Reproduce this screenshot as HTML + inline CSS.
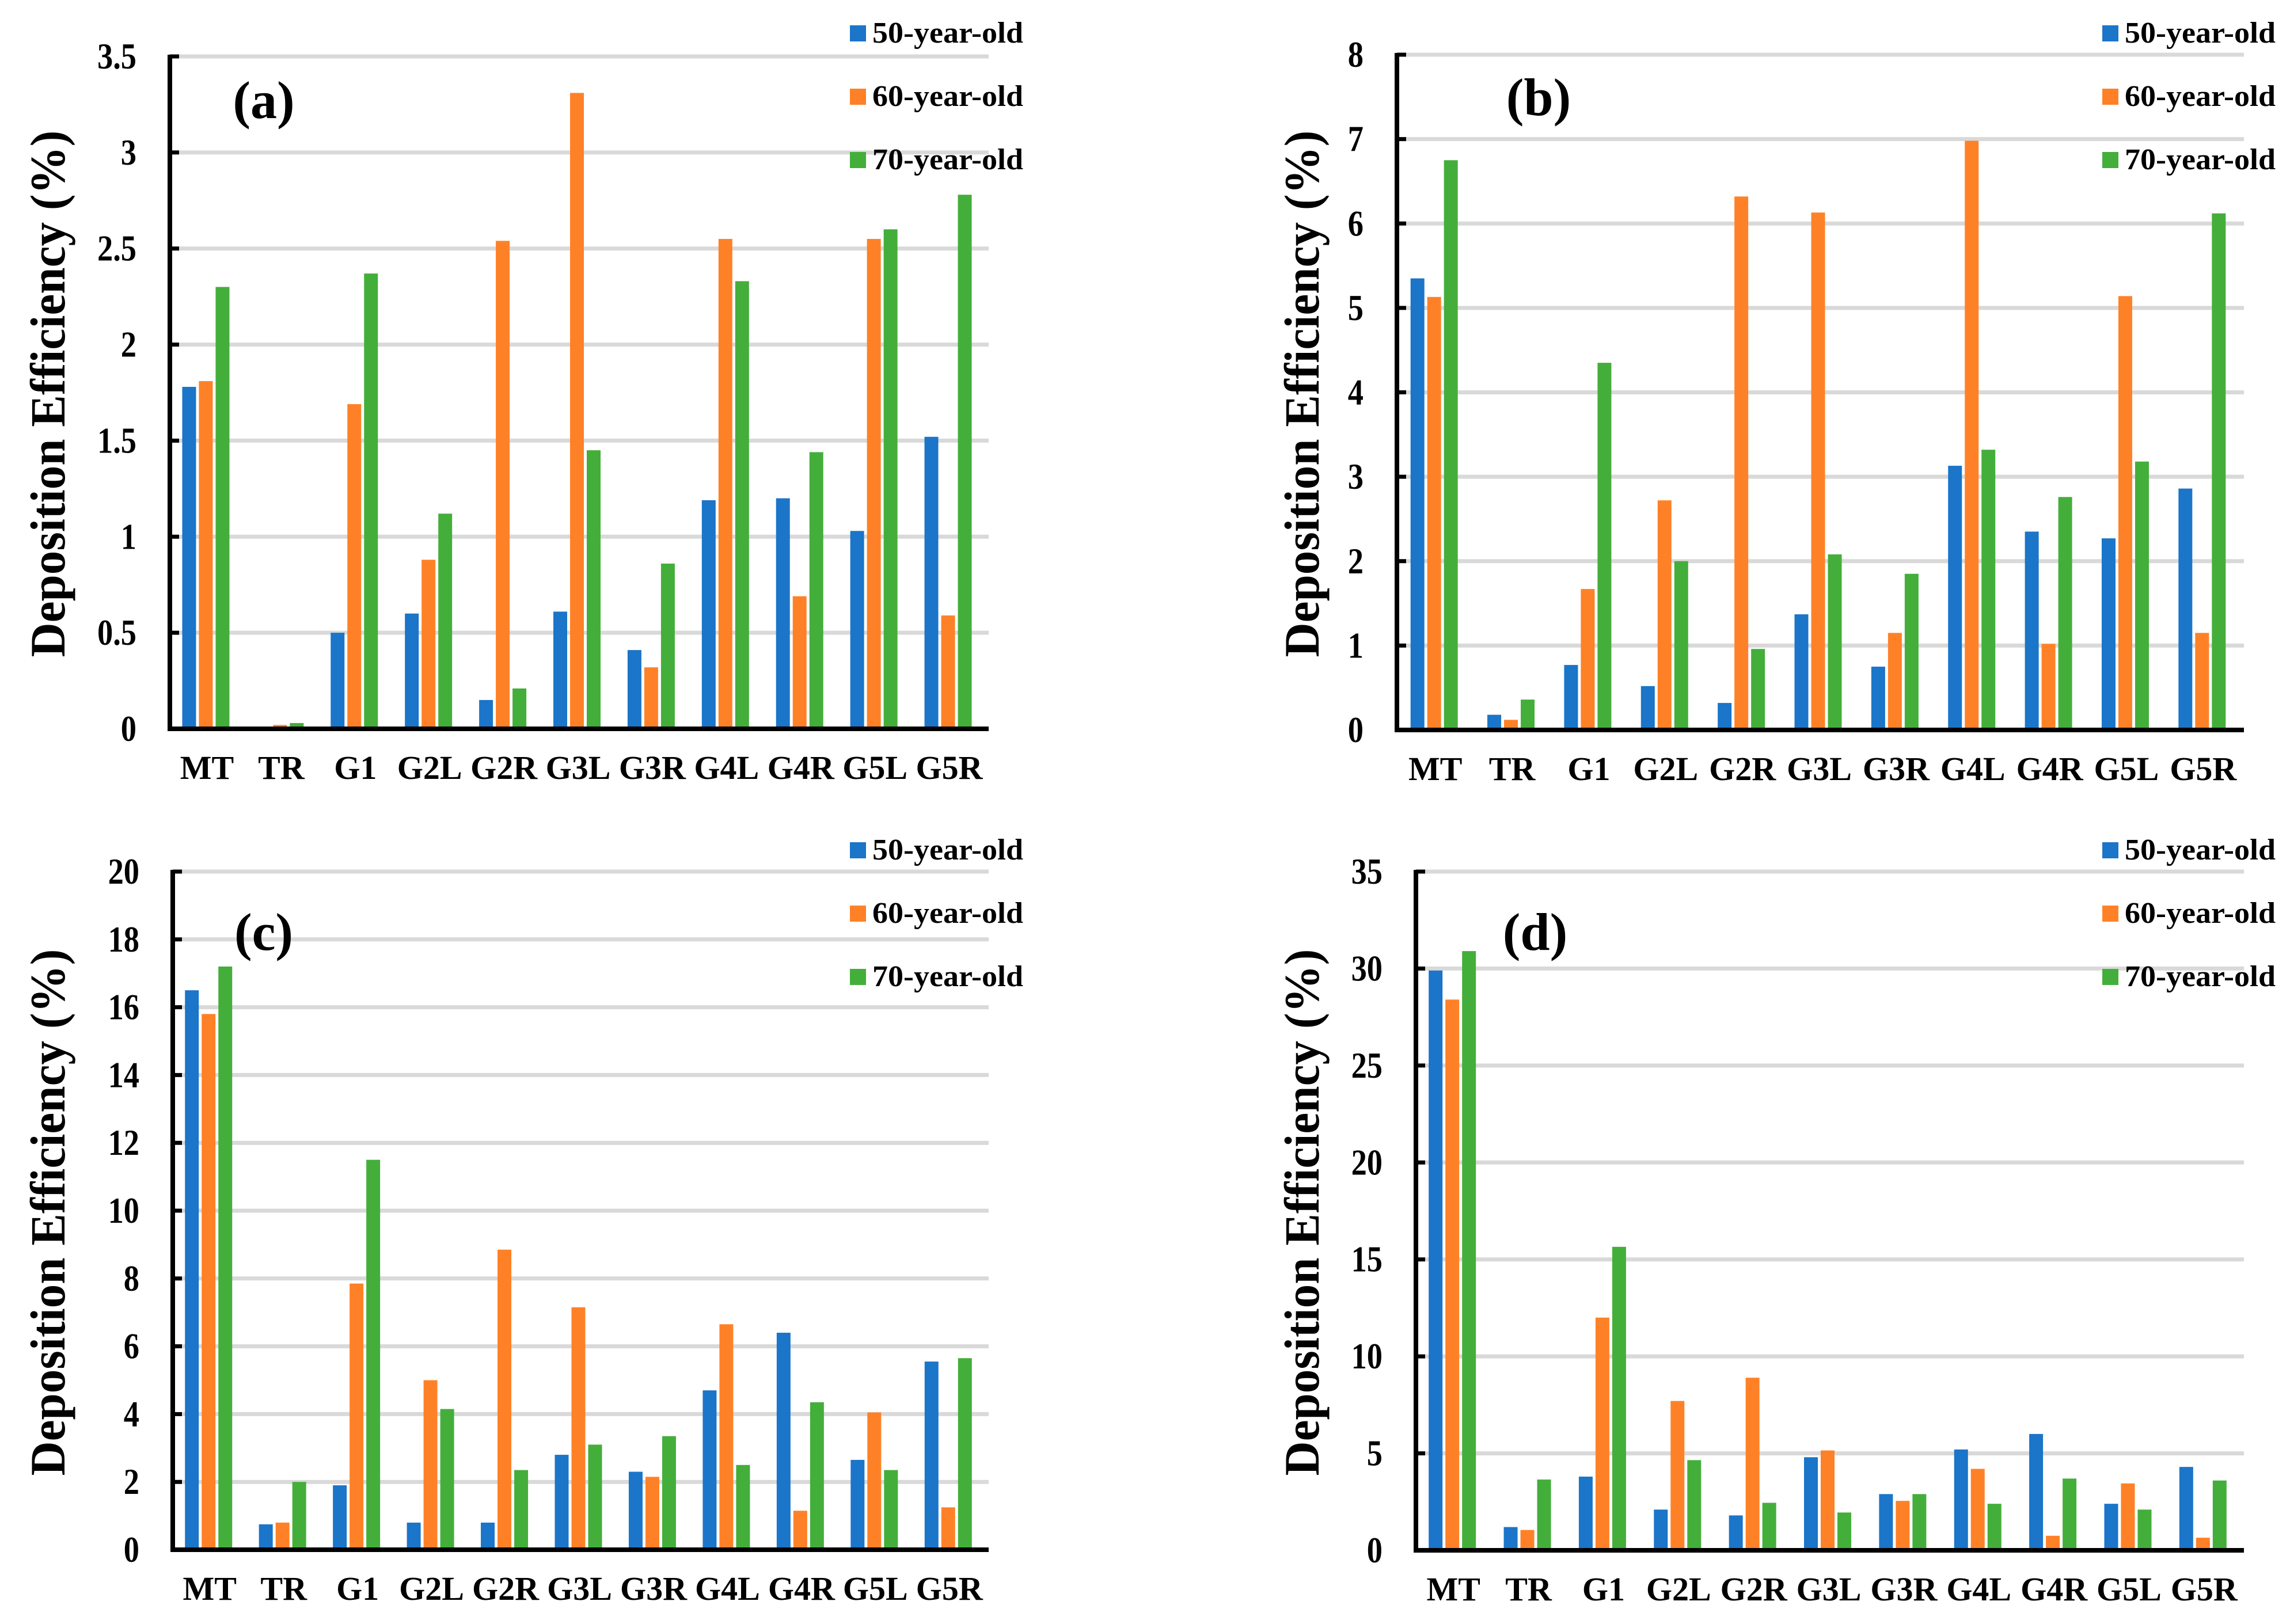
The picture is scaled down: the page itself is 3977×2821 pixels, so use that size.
<!DOCTYPE html>
<html><head><meta charset="utf-8"><style>
html,body{margin:0;padding:0;background:#fff;}
svg{display:block;}
svg text{font-family:"Liberation Serif","Times New Roman","DejaVu Serif",serif;font-weight:bold;fill:#000;}
</style></head><body>
<svg id="fig" xmlns="http://www.w3.org/2000/svg" width="3977" height="2821" viewBox="0 0 3977 2821" font-family="Liberation Serif, DejaVu Serif, serif" font-weight="bold"></svg>
<script>
const categories = ["MT","TR","G1","G2L","G2R","G3L","G3R","G4L","G4R","G5L","G5R"];
const seriesNames = ["50-year-old","60-year-old","70-year-old"];
const colors = ["#1b75c9","#ff8127","#44ae3b"];

const a50 = [1.78,0.01,0.50,0.60,0.15,0.61,0.41,1.19,1.20,1.03,1.52];
const a60 = [1.81,0.02,1.69,0.88,2.54,3.31,0.32,2.55,0.69,2.55,0.59];
const a70 = [2.30,0.03,2.37,1.12,0.21,1.45,0.86,2.33,1.44,2.60,2.78];
const aTicks = ["0","0.5","1","1.5","2","2.5","3","3.5"];

const b50 = [5.35,0.18,0.77,0.52,0.32,1.37,0.75,3.13,2.35,2.27,2.86];
const b60 = [5.13,0.12,1.67,2.72,6.32,6.13,1.15,6.98,1.02,5.14,1.15];
const b70 = [6.75,0.36,4.35,2.00,0.96,2.08,1.85,3.32,2.76,3.18,6.12];
const bTicks = ["0","1","2","3","4","5","6","7","8"];

const c50 = [16.5,0.75,1.9,0.8,0.8,2.8,2.3,4.7,6.4,2.65,5.55];
const c60 = [15.8,0.8,7.85,5.0,8.85,7.15,2.15,6.65,1.15,4.05,1.25];
const c70 = [17.2,2.0,11.5,4.15,2.35,3.1,3.35,2.5,4.35,2.35,5.65];
const cTicks = ["0","2","4","6","8","10","12","14","16","18","20"];

const d50 = [29.9,1.2,3.8,2.1,1.8,4.8,2.9,5.2,6.0,2.4,4.3];
const d60 = [28.4,1.05,12.0,7.7,8.9,5.15,2.55,4.2,0.75,3.45,0.65];
const d70 = [30.9,3.65,15.65,4.65,2.45,1.95,2.9,2.4,3.7,2.1,3.6];
const dTicks = ["0","5","10","15","20","25","30","35"];

const NS = "http://www.w3.org/2000/svg";
const svg = document.getElementById('fig');
function mk(tag, attrs, parent){
  const e = document.createElementNS(NS, tag);
  for (const k in attrs) e.setAttribute(k, attrs[k]);
  (parent||svg).appendChild(e);
  return e;
}
const FF = '"Liberation Serif", "Times New Roman", "DejaVu Serif", serif';

const panels = [
  {id:"a", s:[a50,a60,a70], ticks:aTicks, x0:295, right:1717, top:98, zero:1266, legX:1476, legY:58, labX:458, labY:205, titleX:112, titleY:684},
  {id:"b", s:[b50,b60,b70], ticks:bTicks, x0:2426, right:3897, top:95, zero:1268, legX:3651, legY:58, labX:2672, labY:200, titleX:2290, titleY:684},
  {id:"c", s:[c50,c60,c70], ticks:cTicks, x0:300, right:1717, top:1514, zero:2692, legX:1476, legY:1477, labX:458, labY:1650, titleX:112, titleY:2106},
  {id:"d", s:[d50,d60,d70], ticks:dTicks, x0:2459, right:3897, top:1514, zero:2693, legX:3651, legY:1477, labX:2666, labY:1650, titleX:2290, titleY:2106}
];

panels.forEach(p => {
  const g = mk('g', {'font-family':FF, 'font-weight':'bold'});
  
  
  const maxV = parseFloat(p.ticks[p.ticks.length-1]);
  const yScale = v => p.zero - (v / maxV) * (p.zero - p.top);
  const catW = (p.right - 4 - p.x0) / categories.length;
  const xCenter = i => p.x0 + catW * (i + 0.5);

  p.ticks.forEach((t) => {
    const v = parseFloat(t);
    const y = yScale(v);
    if (v > 0) {
      const gl = mk('line', {x1:p.x0, x2:p.right, y1:y, y2:y, stroke:'#d9d9d9', 'stroke-width':7}, g);
      
      
    }
    const tk = mk('line', {x1:p.x0, x2:p.x0+16, y1:y, y2:y, stroke:'#000', 'stroke-width':7}, g);
    
    
    const tl = mk('text', {'text-anchor':'end', 'font-size':64, 'font-family':FF, 'font-weight':'bold', transform:`translate(${p.x0-58},${y+21}) scale(0.85,1)`}, g);
    
    
    tl.textContent = t;
  });

  const bw = 24, step = 29;
  p.s.forEach((arr, si) => {
    arr.forEach((v, i) => {
      const x = xCenter(i) - 1.5*step + si*step + (step-bw)/2 - 2;
      const y = yScale(v);
      const r = mk('rect', {x:x, y:y, width:bw, height:Math.max(0, p.zero - y), fill:colors[si]}, g);
      
      
    });
  });

  const ax = mk('path', {d:`M${p.x0},${p.top-3} V${p.zero} H${p.right}`, fill:'none', stroke:'#000', 'stroke-width':8}, g);
  
  

  categories.forEach((c, i) => {
    const t = mk('text', {x:xCenter(i), y:p.zero+87, 'text-anchor':'middle', 'font-size':58, 'font-family':FF, 'font-weight':'bold'}, g);
    
    
    t.textContent = c;
  });

  const yt = mk('text', {'text-anchor':'middle', 'font-size':86, 'font-family':FF, 'font-weight':'bold', textLength:915, lengthAdjust:'spacingAndGlyphs', transform:`translate(${p.titleX},${p.titleY}) rotate(-90)`}, g);
  
  
  yt.textContent = 'Deposition Efficiency (%)';

  const pl = mk('text', {x:p.labX, y:p.labY, 'text-anchor':'middle', 'font-size':92, 'font-family':FF, 'font-weight':'bold'}, g);
  
  
  pl.textContent = '(' + p.id + ')';

  seriesNames.forEach((n, si) => {
    const cy = p.legY + si*110;
    const sq = mk('rect', {x:p.legX, y:cy-14, width:28, height:28, fill:colors[si]}, g);
    
    
    const lt = mk('text', {x:p.legX+39, y:cy+16, 'font-size':52, 'font-family':FF, 'font-weight':'bold', textLength:262, lengthAdjust:'spacingAndGlyphs'}, g);
    
    
    lt.textContent = n;
  });
});
</script>
</body></html>
